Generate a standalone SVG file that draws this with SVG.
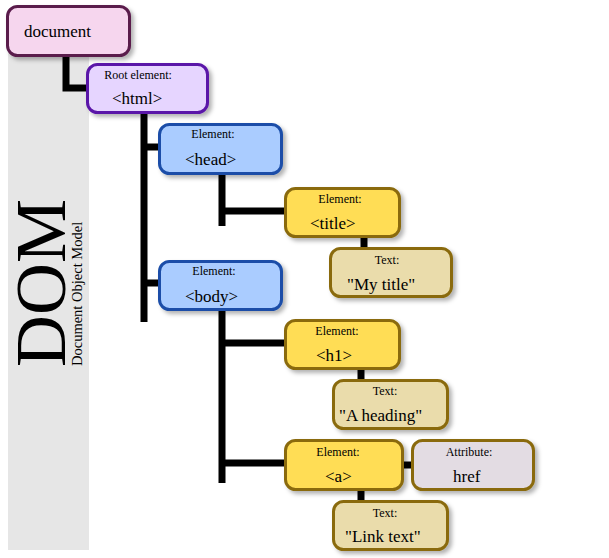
<svg xmlns="http://www.w3.org/2000/svg" width="609" height="558" viewBox="0 0 609 558">
<defs>
<filter id="sh" x="-10%" y="-10%" width="130%" height="140%">
<feDropShadow dx="3" dy="3" stdDeviation="2" flood-color="#000" flood-opacity="0.3"/>
</filter>
<style>
text{font-family:"Liberation Serif","Times New Roman",serif;fill:#000}
.s{font-size:12px;text-anchor:middle}
.b{font-size:17px}
.box{stroke-width:3;filter:url(#sh)}
.doc{fill:#f6d6ee;stroke:#5a1a4c}
.root{fill:#e6d5ff;stroke:#5a14a8}
.blue{fill:#aaccff;stroke:#1a4ea8}
.yel{fill:#ffdd55;stroke:#8a6b0e}
.txt{fill:#eadcab;stroke:#8a6b0e}
.attr{fill:#e3dce3;stroke:#8a6b0e}
.c{fill:none;stroke:#000;stroke-width:7}
</style>
</defs>
<rect x="0" y="0" width="609" height="558" fill="#fff"/>
<rect x="8" y="50" width="81" height="500" fill="#e6e6e6"/>
<g id="title-block">
<text x="65" y="367" font-size="72" transform="rotate(-90 65 367)">DOM</text>
<text x="82" y="366" font-size="14.5" transform="rotate(-90 82 366)">Document Object Model</text>
</g>
<g id="connectors">
<path class="c" d="M66 54V88H90"/>
<path class="c" d="M144 111V322M144 147H162M144 283H162"/>
<path class="c" d="M222 172V226M222 211H288"/>
<path class="c" d="M364 236V250"/>
<path class="c" d="M222 308V483M222 343H288M222 463H288"/>
<path class="c" d="M361 368V382"/>
<path class="c" d="M401 465H413"/>
<path class="c" d="M361 489V503"/>
</g>
<g id="document">
<rect class="box doc" x="7.5" y="6.5" width="122" height="49" rx="10"/>
<text class="b" x="24" y="37">document</text>
</g>
<g id="html">
<rect class="box root" x="87.5" y="64.5" width="120" height="48" rx="10"/>
<text class="s" x="138" y="79">Root element:</text>
<text class="b" x="112" y="104">&lt;html&gt;</text>
</g>
<g id="head">
<rect class="box blue" x="159.5" y="124.5" width="122" height="49" rx="10"/>
<text class="s" x="213" y="138">Element:</text>
<text class="b" x="185" y="165">&lt;head&gt;</text>
</g>
<g id="title">
<rect class="box yel" x="285.5" y="188.5" width="114" height="48" rx="10"/>
<text class="s" x="340" y="203">Element:</text>
<text class="b" x="310" y="229">&lt;title&gt;</text>
</g>
<g id="text-title">
<rect class="box txt" x="330.5" y="248.5" width="121" height="48" rx="10"/>
<text class="s" x="387" y="264">Text:</text>
<text class="b" x="347" y="290">"My title"</text>
</g>
<g id="body">
<rect class="box blue" x="159.5" y="261.5" width="122" height="48" rx="10"/>
<text class="s" x="214" y="275">Element:</text>
<text class="b" x="185" y="302">&lt;body&gt;</text>
</g>
<g id="h1">
<rect class="box yel" x="285.5" y="320.5" width="114" height="48" rx="10"/>
<text class="s" x="337" y="335">Element:</text>
<text class="b" x="316" y="361">&lt;h1&gt;</text>
</g>
<g id="text-heading">
<rect class="box txt" x="333.5" y="380.5" width="114" height="48" rx="10"/>
<text class="s" x="385" y="395">Text:</text>
<text class="b" x="339" y="421">"A heading"</text>
</g>
<g id="a">
<rect class="box yel" x="285.5" y="440.5" width="117" height="49" rx="10"/>
<text class="s" x="338" y="456">Element:</text>
<text class="b" x="325" y="482">&lt;a&gt;</text>
</g>
<g id="href">
<rect class="box attr" x="412.5" y="440.5" width="121" height="49" rx="10"/>
<text class="s" x="469" y="456">Attribute:</text>
<text class="b" x="453" y="482">href</text>
</g>
<g id="text-link">
<rect class="box txt" x="333.5" y="501.5" width="114" height="48" rx="10"/>
<text class="s" x="385" y="517">Text:</text>
<text class="b" x="345" y="542">"Link text"</text>
</g>
</svg>
